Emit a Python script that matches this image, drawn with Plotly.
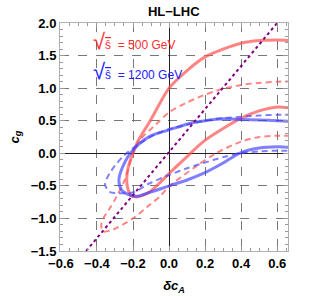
import plotly.graph_objects as go

# Red solid contour (sqrt(s)=500 GeV)
red_solid_x = [0.68, 0.6, 0.5, 0.4, 0.3, 0.2, 0.1, 0.0, -0.1, -0.17, -0.2, -0.225, -0.235, -0.228, -0.21, -0.18, -0.15, -0.107, -0.05, 0.0, 0.1, 0.19, 0.3, 0.4, 0.5, 0.6, 0.68]
red_solid_y = [1.73, 1.74, 1.73, 1.69, 1.60, 1.48, 1.27, 1.0, 0.52, 0.2, 0.0, -0.2, -0.4, -0.55, -0.65, -0.67, -0.65, -0.59, -0.45, -0.31, -0.05, 0.18, 0.38, 0.54, 0.65, 0.71, 0.69]
# Red dashed contour
red_dash_x = [0.68, 0.6, 0.5, 0.4, 0.3, 0.2, 0.1, 0.0, -0.07, -0.163, -0.2, -0.246, -0.29, -0.33, -0.365, -0.376, -0.367, -0.31, -0.2, -0.107, -0.05, 0.0, 0.15, 0.26, 0.4, 0.5, 0.6, 0.68]
red_dash_y = [1.10, 1.10, 1.08, 1.05, 0.99, 0.90, 0.78, 0.63, 0.45, 0.2, 0.0, -0.41, -0.66, -0.85, -1.0, -1.1, -1.2, -1.17, -1.0, -0.79, -0.66, -0.51, -0.2, 0.0, 0.18, 0.25, 0.27, 0.27]
# Blue solid contour (sqrt(s)=1200 GeV)
blue_solid_x = [0.68, 0.6, 0.5, 0.4, 0.3, 0.2, 0.13, 0.0, -0.107, -0.2, -0.256, -0.278, -0.264, -0.218, -0.18, -0.107, 0.0, 0.1, 0.19, 0.3, 0.39, 0.5, 0.6, 0.68]
blue_solid_y = [0.49, 0.50, 0.51, 0.52, 0.53, 0.50, 0.47, 0.36, 0.26, 0.05, -0.2, -0.41, -0.56, -0.64, -0.66, -0.60, -0.50, -0.41, -0.31, -0.15, 0.0, 0.08, 0.10, 0.09]
# Blue dashed contour
blue_dash_x = [0.68, 0.6, 0.5, 0.4, 0.3, 0.2, 0.1, 0.0, -0.07, -0.163, -0.256, -0.33, -0.355, -0.33, -0.3, -0.2, -0.107, 0.004, 0.1, 0.19, 0.3, 0.39, 0.5, 0.6, 0.68]
blue_dash_y = [0.59, 0.59, 0.58, 0.56, 0.54, 0.50, 0.44, 0.37, 0.30, 0.15, -0.05, -0.31, -0.48, -0.59, -0.61, -0.60, -0.46, -0.33, -0.23, -0.15, -0.06, 0.0, 0.03, 0.04, 0.04]
# Purple dotted line
purple_x = [-0.46, 0.6]
purple_y = [-1.5, 2.0]

x_ticks = [-0.6, -0.4, -0.2, 0.0, 0.2, 0.4, 0.6]
x_ticklabels = ["\u22120.6", "\u22120.4", "\u22120.2", "0.0", "0.2", "0.4", "0.6"]
y_ticks = [-1.5, -1.0, -0.5, 0.0, 0.5, 1.0, 1.5, 2.0]
y_ticklabels = ["\u22121.5", "\u22121.0", "\u22120.5", "0.0", "0.5", "1.0", "1.5", "2.0"]

RED = "rgba(255,80,80,0.7)"
BLUE = "rgba(60,60,255,0.65)"

fig = go.Figure()
fig.add_trace(go.Scatter(x=red_solid_x, y=red_solid_y, mode="lines",
                         line=dict(color=RED, width=3, shape="spline", smoothing=0.8)))
fig.add_trace(go.Scatter(x=red_dash_x, y=red_dash_y, mode="lines",
                         line=dict(color=RED, width=2, dash="6px,4px", shape="spline", smoothing=0.8)))
fig.add_trace(go.Scatter(x=blue_solid_x, y=blue_solid_y, mode="lines",
                         line=dict(color=BLUE, width=3, shape="spline", smoothing=0.8)))
fig.add_trace(go.Scatter(x=blue_dash_x, y=blue_dash_y, mode="lines",
                         line=dict(color=BLUE, width=2, dash="6px,4px", shape="spline", smoothing=0.8)))
fig.add_trace(go.Scatter(x=purple_x, y=purple_y, mode="lines",
                         line=dict(color="#800080", width=2, dash="dot")))

axis_common = dict(
    showline=True, linecolor="#b0b0b0", linewidth=1, mirror="ticks",
    ticks="inside", ticklen=5, tickcolor="#999", tickwidth=1,
    showgrid=True, gridcolor="#777", griddash="dash", gridwidth=1,
    zeroline=True, zerolinecolor="#222", zerolinewidth=1,
    automargin=False,
    tickfont=dict(family="Liberation Sans", size=13, color="black", weight="bold"),
)

fig.update_xaxes(range=[-0.605, 0.66], tickvals=x_ticks, ticktext=x_ticklabels,
                 minor=dict(dtick=0.05, ticks="inside", ticklen=3, tickcolor="#999", showgrid=False),
                 title=dict(text="<b><i>\u03b4c<sub>A</sub></i></b>", font=dict(family="Liberation Sans", size=13, color="black"), standoff=11),
                 **axis_common)
fig.update_yaxes(range=[-1.5, 2.0], tickvals=y_ticks, ticktext=y_ticklabels,
                 minor=dict(dtick=0.1, ticks="inside", ticklen=3, tickcolor="#999", showgrid=False),
                 title=dict(text="<b><i>c<sub>g</sub></i></b>", font=dict(family="Liberation Sans", size=13, color="black"), standoff=8),
                 **axis_common)

fig.add_annotation(x=-0.435, y=1.72, xref="x", yref="y", xanchor="left", yanchor="middle",
                   text="<span style='font-size:22px'>\u221a</span><span style='text-decoration:overline'>\u015d</span>  = 500 GeV",
                   showarrow=False, font=dict(family="Liberation Sans", size=12, color="#ff3030"))
fig.add_annotation(x=-0.435, y=1.26, xref="x", yref="y", xanchor="left", yanchor="middle",
                   text="<span style='font-size:22px'>\u221a</span><span style='text-decoration:overline'>\u015d</span>  = 1200 GeV",
                   showarrow=False, font=dict(family="Liberation Sans", size=12, color="#2020ff"))

fig.update_layout(
    width=313, height=296,
    margin=dict(l=60, r=25, t=23, b=45, autoexpand=False),
    paper_bgcolor="white", plot_bgcolor="white",
    showlegend=False,
    title=dict(text="<b>HL\u2212LHC</b>", x=0.555, xanchor="center", y=0.963, yanchor="middle",
               font=dict(family="Liberation Sans", size=13, color="black")),
)

# remove the default 8px page margin so the figure fills the window exactly
fig.write_html("out.html", config={"displayModeBar": False},
               post_script="document.body.style.margin='0';document.documentElement.style.overflow='hidden';")
